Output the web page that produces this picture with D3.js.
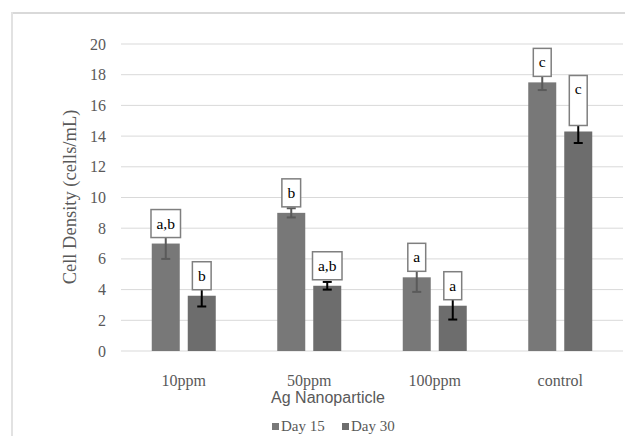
<!DOCTYPE html>
<meta charset="utf-8">
<style>
    html,
    body {
        margin: 0;
        background: #fff;
    }

    .grid line {
        stroke: #d9d9d9;
        stroke-width: 1px;
    }

    .tick-label,
    .cat-label {
        font-family: "Liberation Serif", "DejaVu Serif", serif;
        font-size: 16px;
        fill: #595959;
    }

    .legend text {
        font-family: "Liberation Serif", "DejaVu Serif", serif;
        font-size: 15px;
        fill: #595959;
    }

    .y-title {
        font-family: "Liberation Serif", "DejaVu Serif", serif;
        font-size: 18.5px;
        fill: #595959;
    }

    .x-title {
        font-family: "Liberation Sans", sans-serif;
        font-size: 16px;
        fill: #595959;
    }

    .box rect {
        fill: #fff;
        stroke: #7f7f7f;
        stroke-width: 1.5px;
    }

    .box text {
        font-family: "Liberation Serif", "DejaVu Serif", serif;
        font-size: 15.5px;
        fill: #000;
    }
</style>

<body>
    <script src="https://d3js.org/d3.v7.min.js"></script>

    <script>
        // data
        var categories = ["10ppm", "50ppm", "100ppm", "control"];
        var seriesNames = ["Day 15", "Day 30"];
        var day15 = [7.0, 9.0, 4.8, 17.5];
        var day30 = [3.6, 4.25, 2.95, 14.3];
        var err15 = [1.0, 0.3, 0.95, 0.5];
        var err30 = [0.7, 0.25, 0.9, 0.75];
        var labels15 = ["a,b", "b", "a", "c"];
        var labels30 = ["b", "a,b", "a", "c\n"];
        var yTicks = [0, 2, 4, 6, 8, 10, 12, 14, 16, 18, 20];

        var width = 625,
            height = 436;

        var colors = ["#787878", "#6d6d6d"];
        var errColors = ["#5a5a5a", "#000"];

        var svg = d3.select("body").append("svg")
            .attr("width", width)
            .attr("height", height);

        // chart frame (cropped at right and bottom)
        svg.append("line")
            .attr("x1", 12).attr("x2", width).attr("y1", 13).attr("y2", 13)
            .style("stroke", "#d9d9d9").style("stroke-width", 2);
        svg.append("line")
            .attr("x1", 12).attr("x2", 12).attr("y1", 12).attr("y2", height)
            .style("stroke", "#e2e2e2").style("stroke-width", 2);

        var y = d3.scaleLinear()
            .domain([0, 20])
            .range([351, 44]);

        var x = d3.scaleBand()
            .domain(categories)
            .range([121, 623]);

        var x1 = d3.scaleBand()
            .domain(seriesNames)
            .range([x.bandwidth() / 2 - 32, x.bandwidth() / 2 + 32])
            .paddingInner(8 / 36);

        // gridlines
        svg.append("g")
            .attr("class", "grid")
            .selectAll("line")
            .data(yTicks)
            .enter().append("line")
            .attr("x1", 121)
            .attr("x2", 623)
            .attr("y1", function (d) { return y(d); })
            .attr("y2", function (d) { return y(d); });

        svg.append("g")
            .selectAll("text")
            .data(yTicks)
            .enter().append("text")
            .attr("class", "tick-label")
            .attr("x", 106)
            .attr("y", function (d) { return y(d) + 5.5; })
            .attr("text-anchor", "end")
            .text(function (d) { return d; });

        svg.append("text")
            .attr("class", "y-title")
            .attr("transform", "translate(76,197) rotate(-90)")
            .attr("text-anchor", "middle")
            .text("Cell Density (cells/mL)");

        // one row per bar
        var rows = [];
        categories.forEach(function (c, i) {
            rows.push({ cat: c, s: 0, v: day15[i], e: err15[i], label: labels15[i] });
            rows.push({ cat: c, s: 1, v: day30[i], e: err30[i], label: labels30[i] });
        });

        function barX(d) { return x(d.cat) + x1(seriesNames[d.s]); }
        function barMid(d) { return barX(d) + x1.bandwidth() / 2; }

        svg.append("g")
            .selectAll("rect")
            .data(rows)
            .enter().append("rect")
            .attr("x", barX)
            .attr("y", function (d) { return y(d.v); })
            .attr("width", x1.bandwidth())
            .attr("height", function (d) { return y(0) - y(d.v); })
            .style("fill", function (d) { return colors[d.s]; });

        // error bars
        var eb = svg.append("g")
            .selectAll("g")
            .data(rows)
            .enter().append("g")
            .style("stroke", function (d) { return errColors[d.s]; })
            .style("stroke-width", 2);

        eb.append("line")
            .attr("x1", barMid).attr("x2", barMid)
            .attr("y1", function (d) { return y(d.v - d.e); })
            .attr("y2", function (d) { return y(d.v + d.e); });
        [-1, 1].forEach(function (k) {
            eb.append("line")
                .attr("x1", function (d) { return barMid(d) - 4.5; })
                .attr("x2", function (d) { return barMid(d) + 4.5; })
                .attr("y1", function (d) { return y(d.v + k * d.e); })
                .attr("y2", function (d) { return y(d.v + k * d.e); });
        });

        // letter labels in boxes
        var box = svg.append("g")
            .selectAll("g")
            .data(rows)
            .enter().append("g")
            .attr("class", "box");

        box.each(function (d) {
            var g = d3.select(this);
            var lines = d.label.split("\n");
            var h = 28 + (lines.length - 1) * 22;
            var bottom = y(d.v) - 6;
            var top = bottom - h;
            var rect = g.append("rect");
            var t = g.append("text")
                .attr("x", barMid(d))
                .attr("y", top + 19)
                .attr("text-anchor", "middle")
                .text(lines[0]);
            var w = t.node().getComputedTextLength() + 11;
            rect.attr("x", barMid(d) - w / 2)
                .attr("y", top)
                .attr("width", w)
                .attr("height", h);
        });

        // category labels
        svg.append("g")
            .selectAll("text")
            .data(categories)
            .enter().append("text")
            .attr("class", "cat-label")
            .attr("x", function (d) { return x(d) + x.bandwidth() / 2; })
            .attr("y", 386)
            .attr("text-anchor", "middle")
            .text(function (d) { return d; });

        svg.append("text")
            .attr("class", "x-title")
            .attr("x", 328)
            .attr("y", 403)
            .attr("text-anchor", "middle")
            .text("Ag Nanoparticle");

        // legend
        var legendX = [272, 342];
        var legend = svg.append("g")
            .attr("class", "legend")
            .selectAll("g")
            .data(seriesNames)
            .enter().append("g")
            .attr("transform", function (d, i) { return "translate(" + legendX[i] + ",0)"; });

        legend.append("rect")
            .attr("x", 0).attr("y", 423)
            .attr("width", 7).attr("height", 7)
            .style("fill", function (d, i) { return colors[i]; });

        legend.append("text")
            .attr("x", 9)
            .attr("y", 431)
            .text(function (d) { return d; });
    </script>
</body>

</html>
